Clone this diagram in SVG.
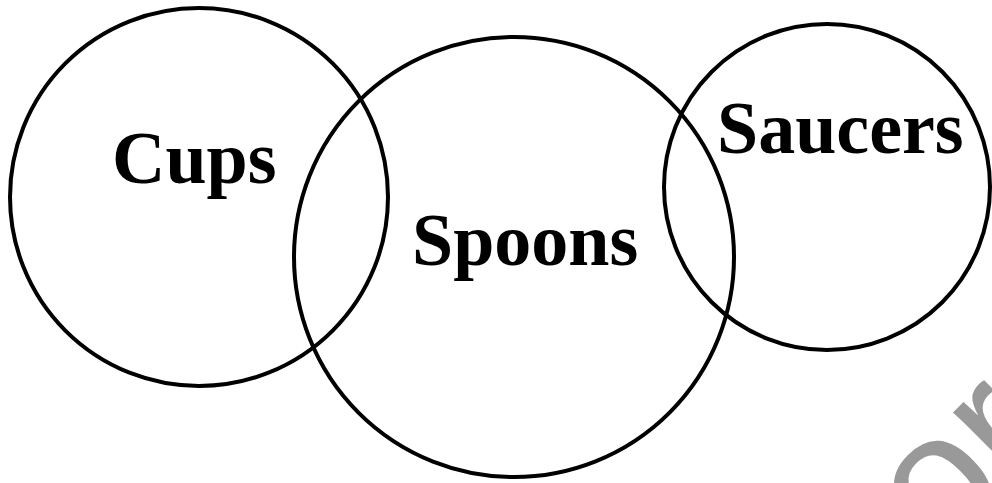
<svg xmlns="http://www.w3.org/2000/svg" width="992" height="483" viewBox="0 0 992 483">
<style>
.set{fill:none;stroke:#000;stroke-width:4}
.lbl{font-family:"Liberation Serif","Times New Roman",serif;font-weight:bold;font-size:74px;fill:#000}
.wm{font-family:"Liberation Sans",Arial,sans-serif;font-size:180px;fill:#999}
</style>
<rect width="992" height="483" fill="#fff"/>
<text class="wm" x="941" y="559" transform="rotate(-45 941 559)">or</text>
<g id="cups">
<circle class="set" cx="199" cy="197" r="189"/>
<text class="lbl" x="112" y="183">Cups</text>
</g>
<g id="spoons">
<circle class="set" cx="514" cy="257" r="220"/>
<text class="lbl" x="412" y="265">Spoons</text>
</g>
<g id="saucers">
<circle class="set" cx="827" cy="187" r="163"/>
<text class="lbl" x="717" y="153">Saucers</text>
</g>
<g id="connectors"/>
</svg>
